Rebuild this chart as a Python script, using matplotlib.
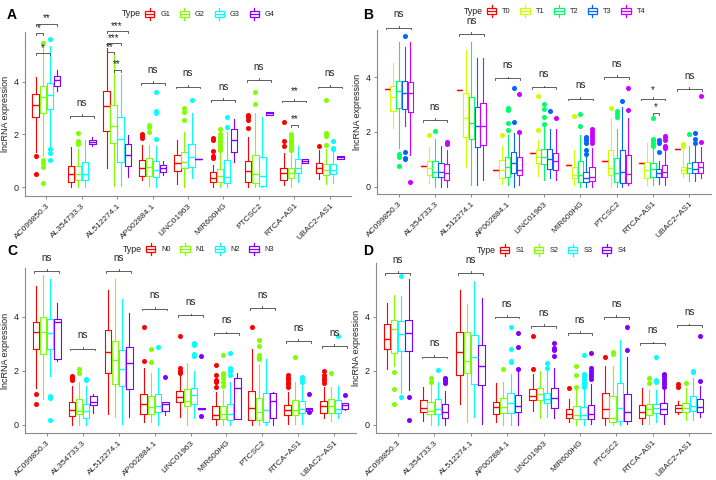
import matplotlib
matplotlib.use('Agg')
import matplotlib.pyplot as plt
import numpy as np
from matplotlib.legend_handler import HandlerBase
from matplotlib.lines import Line2D
from matplotlib.patches import Rectangle

plt.rcParams['font.family'] = ['Liberation Sans', 'DejaVu Sans']

genes = ['AC099850.3', 'AL354733.3', 'AL512274.1', 'AP002884.1', 'LINC01963',
         'MIR600HG', 'PTCSC2', 'RTCA\u2212AS1', 'UBAC2\u2212AS1']

# ---------------- Panel A ----------------
A_groups = ['G1', 'G2', 'G3', 'G4']
A_colors = ['#FF0000', '#80FF00', '#00FFFF', '#8000FF']
A_lo = [[1.35, 0.0, 0.71, 0.25, 0.12, 0.0, 0.0, 0.08, 0.3],
        [1.19, 0.0, 0.05, 0.05, 0.0, 0.0, 0.0, 0.0, 0.1],
        [1.5, 0.0, 0.05, 0.0, 0.35, 0.0, 0.0, 0.2, 0.15],
        [3.67, 1.58, 0.39, 0.45, 1.08, 0.95, 2.75, 0.9, 1.07]]
A_q1 = [[2.65, 0.2, 2.13, 0.43, 0.62, 0.2, 0.2, 0.27, 0.52],
        [2.81, 0.27, 1.66, 0.43, 0.71, 0.2, 0.14, 0.33, 0.46],
        [2.97, 0.27, 0.97, 0.4, 0.77, 0.17, 0.04, 0.52, 0.5],
        [3.85, 1.65, 0.8, 0.56, 1.08, 1.35, 2.76, 0.93, 1.07]]
A_med = [[3.14, 0.5, 3.09, 0.74, 0.93, 0.33, 0.62, 0.55, 0.71],
         [3.43, 0.5, 2.32, 0.77, 0.97, 0.42, 0.5, 0.55, 0.65],
         [3.5, 0.5, 1.82, 0.65, 1.13, 0.37, 0.42, 0.71, 0.65],
         [4.08, 1.73, 1.22, 0.71, 1.08, 1.79, 2.8, 0.99, 1.13]]
A_q3 = [[3.53, 0.81, 3.66, 1.03, 1.21, 0.58, 0.99, 0.71, 0.9],
        [3.86, 0.81, 3.12, 1.09, 1.35, 0.69, 1.22, 0.71, 0.88],
        [3.97, 0.94, 2.68, 0.98, 1.64, 1.03, 1.13, 1.05, 0.88],
        [4.23, 1.8, 1.64, 0.84, 1.08, 2.2, 2.84, 1.05, 1.18]]
A_hi = [[4.18, 1.54, 5.28, 1.6, 1.78, 0.85, 1.9, 1.3, 1.4],
        [5.3, 1.45, 5.05, 1.6, 2.1, 1.3, 2.8, 1.3, 1.45],
        [5.35, 1.78, 4.27, 1.55, 2.8, 2.1, 2.68, 1.55, 1.35],
        [4.46, 1.9, 1.98, 0.98, 1.08, 2.58, 2.87, 1.08, 1.18]]
A_out = [[[1.18, 0.5], [], [], [2.0, 1.94, 1.85], [], [1.85, 1.8, 1.38, 1.2, 1.1],
          [2.75, 2.65, 2.55, 2.25], [2.48, 1.74, 1.55], [1.55]],
         [[5.5, 1.03, 0.9, 0.77, 0.17], [2.05, 1.75, 1.7, 1.65], [], [2.35, 2.3, 2.1],
          [3.02, 2.85, 2.55], [2.2, 2.0, 1.9, 1.8, 1.7, 1.6, 1.5, 1.4], [3.62, 3.15],
          [2.0, 1.9, 1.8, 1.7, 1.6, 1.5, 1.4], [3.3, 2.05, 2.0, 1.95, 1.6]],
         [[5.62, 1.45, 1.28, 1.02], [], [], [3.62, 2.88, 2.82, 1.82], [3.3], [2.65, 2.3],
          [], [], [1.75, 1.5, 1.45]],
         [[], [], [], [], [], [], [], [], []]]
A_ov_labels = [None, 'ns', None, 'ns', 'ns', 'ns', 'ns', '**', 'ns']
A_ov_y = [0, 2.7, 0, 3.97, 3.82, 3.31, 4.08, 3.29, 3.82]
A_pairs = [(0, 0, 1, '*', 5.85), (0, 0, 2, '*', 5.09), (0, 0, 3, '**', 6.2),
           (2, 0, 1, '**', 5.12), (2, 1, 2, '**', 4.46), (2, 0, 2, '***', 5.47),
           (2, 0, 3, '***', 5.92), (7, 1, 2, '**', 2.36)]

# ---------------- Panel B ----------------
B_groups = ['T0', 'T1', 'T2', 'T3', 'T4']
B_colors = ['#FF0000', '#CCFF00', '#00FF66', '#0066FF', '#CC00FF']
B_T0 = [3.58, 0.75, 3.52, 0.6, 1.22, 0.78, 0.95, 0.88, 1.37]
B_lo = [B_T0,
        [2.13, 0.15, 0.73, 0.1, 0.4, 0.05, 0.0, 0.05, 0.35],
        [1.4, 0.0, 0.05, 0.05, 0.25, 0.0, 0.0, 0.05, 0.2],
        [2.2, 0.0, 0.05, 0.0, 0.3, 0.0, 0.0, 0.1, 0.2],
        [1.16, 0.0, 0.25, 0.05, 0.25, 0.0, 0.05, 0.05, 0.3]]
B_q1 = [B_T0,
        [2.78, 0.43, 1.83, 0.3, 0.85, 0.3, 0.43, 0.3, 0.49],
        [2.87, 0.37, 1.73, 0.37, 0.83, 0.18, 0.18, 0.37, 0.49],
        [2.85, 0.37, 1.46, 0.49, 0.63, 0.18, 0.15, 0.34, 0.51],
        [2.74, 0.24, 1.52, 0.43, 0.61, 0.22, 0.15, 0.34, 0.49]]
B_med = [B_T0,
         [3.29, 0.67, 2.5, 0.61, 1.1, 0.43, 0.67, 0.59, 0.61],
         [3.51, 0.55, 2.32, 0.73, 1.1, 0.43, 0.49, 0.63, 0.67],
         [3.41, 0.54, 2.23, 0.85, 1.0, 0.3, 0.55, 0.49, 0.66],
         [3.41, 0.49, 2.22, 0.62, 0.95, 0.37, 0.46, 0.55, 0.7]]
B_q3 = [B_T0,
        [3.68, 0.94, 3.41, 0.98, 1.34, 0.73, 1.34, 0.91, 0.73],
        [3.88, 0.95, 3.29, 1.1, 1.38, 0.92, 1.04, 0.88, 0.85],
        [3.85, 0.88, 2.93, 1.28, 1.36, 0.55, 1.34, 0.63, 0.91],
        [3.83, 0.83, 3.05, 1.07, 1.22, 0.73, 1.16, 0.79, 0.91]]
B_hi = [B_T0,
        [4.51, 1.45, 5.0, 1.5, 1.7, 1.35, 2.5, 1.6, 1.4],
        [5.3, 1.75, 5.3, 1.9, 2.2, 1.9, 2.1, 1.4, 1.5],
        [5.12, 1.5, 4.69, 1.95, 2.1, 1.1, 2.9, 0.95, 1.5],
        [5.3, 1.35, 4.7, 1.9, 2.1, 1.4, 2.5, 1.3, 1.45]]
B_out = [[[], [], [], [], [], [], [], [], []],
         [[], [1.9], [], [1.88], [3.3, 2.08], [2.58], [2.88], [], [1.55, 1.5]],
         [[1.18, 1.08, 0.77], [2.05], [], [2.88, 2.82, 2.33, 2.08], [3.02, 2.85, 2.55, 2.3],
          [2.65, 2.2], [2.75, 2.65, 2.55], [2.5, 1.75, 1.7, 1.6, 1.5], [1.93]],
         [[5.5, 1.28, 1.05, 1.0], [], [], [3.6, 2.38], [2.78],
          [1.8, 1.75, 1.7, 1.6, 1.35, 1.2], [3.15], [1.7, 1.6, 1.25], [1.95, 1.75, 1.6]],
         [[0.18], [1.65, 1.6, 1.55], [], [3.4, 2.0], [2.52], [2.1, 2.0, 1.9, 1.8, 1.7, 1.6],
          [3.6, 2.8], [1.85, 1.8, 1.7, 1.5, 1.45, 1.4], [3.3, 1.62]]]
B_ov_labels = ['ns', 'ns', 'ns', 'ns', 'ns', 'ns', 'ns', '*', 'ns']
B_ov_y = [5.82, 2.44, 5.59, 3.96, 3.63, 3.22, 4.0, 3.22, 3.57]
B_pairs = [(7, 2, 3, '*', 2.7)]

# ---------------- Panel C ----------------
C_groups = ['N0', 'N1', 'N2', 'N3']
C_colors = ['#FF0000', '#80FF00', '#00FFFF', '#8000FF']
C_lo = [[1.35, 0.0, 0.39, 0.1, 0.3, 0.0, 0.0, 0.05, 0.25],
        [0.97, 0.0, 0.28, 0.1, 0.0, 0.0, 0.0, 0.05, 0.15],
        [1.8, 0.0, 0.05, 0.0, 0.25, 0.0, 0.0, 0.05, 0.25],
        [2.35, 0.45, 0.3, 0.35, 0.58, 0.21, 0.0, 0.53, 0.55]]
C_q1 = [[2.79, 0.33, 1.9, 0.39, 0.86, 0.23, 0.18, 0.37, 0.45],
        [2.63, 0.39, 1.5, 0.39, 0.68, 0.21, 0.17, 0.37, 0.45],
        [2.82, 0.27, 1.44, 0.46, 0.76, 0.17, 0.11, 0.43, 0.45],
        [2.45, 0.73, 1.32, 0.52, 0.58, 0.21, 0.27, 0.53, 0.6]]
C_med = [[3.43, 0.55, 2.7, 0.77, 1.02, 0.37, 0.64, 0.55, 0.68],
         [3.43, 0.53, 2.4, 0.65, 0.9, 0.39, 0.49, 0.55, 0.68],
         [3.41, 0.53, 2.08, 0.7, 1.1, 0.39, 0.54, 0.6, 0.58],
         [3.8, 0.85, 2.28, 0.76, 0.6, 1.38, 0.89, 0.58, 0.72]]
C_q3 = [[3.8, 0.86, 3.5, 1.13, 1.26, 0.7, 1.26, 0.74, 0.88],
        [3.99, 0.97, 3.1, 1.07, 1.34, 0.68, 0.98, 0.92, 0.95],
        [3.9, 0.76, 2.77, 1.13, 1.38, 0.76, 1.17, 0.89, 0.92],
        [3.9, 1.07, 2.89, 0.86, 0.64, 1.75, 1.17, 0.62, 0.82]]
C_hi = [[5.15, 1.45, 5.0, 2.1, 1.8, 1.2, 2.8, 1.2, 1.4],
        [5.53, 1.6, 5.38, 1.9, 2.3, 1.3, 2.2, 1.6, 1.4],
        [5.38, 1.45, 4.64, 2.1, 2.0, 1.6, 2.45, 1.5, 1.45],
        [4.52, 1.15, 4.12, 0.86, 0.64, 1.9, 1.22, 0.62, 0.82]]
C_out = [[[1.15, 0.77], [1.8, 1.75, 1.7, 1.65], [], [3.62, 2.38], [3.3, 2.1, 2.0, 1.95, 1.9],
          [2.2, 1.85, 1.65, 1.6, 1.4], [3.62], [1.85, 1.75, 1.7, 1.6, 1.5, 1.4],
          [2.0, 1.85, 1.75, 1.65, 1.55]],
         [[], [2.05, 1.9], [], [2.82, 2.33], [], [2.6, 1.9, 1.85, 1.75, 1.6, 1.45],
          [3.15, 2.9, 2.6, 2.5, 2.45], [2.5], [1.93]],
         [[1.05, 1.0, 0.18], [1.7, 1.65], [], [2.88], [3.02, 2.95, 2.62, 2.55],
          [2.65, 2.1, 2.0, 1.85], [], [1.78, 1.7, 1.6], [3.3]],
         [[], [], [], [1.78], [2.55, 0.32], [], [], [1.15, 0.48], [1.1]]]
C_ov_labels = ['ns'] * 9
C_ov_y = [5.69, 2.82, 5.69, 4.3, 4.05, 3.38, 4.33, 3.1, 2.92]
C_pairs = []

# ---------------- Panel D ----------------
D_groups = ['S1', 'S2', 'S3', 'S4']
D_colors = ['#FF0000', '#80FF00', '#00FFFF', '#8000FF']
D_lo = [[2.09, 0.15, 0.77, 0.1, 0.5, 0.1, 0.0, 0.05, 0.4],
        [2.2, 0.0, 0.1, 0.0, 0.25, 0.0, 0.0, 0.05, 0.2],
        [1.2, 0.0, 0.3, 0.0, 0.3, 0.0, 0.0, 0.1, 0.2],
        [1.3, 0.0, 0.05, 0.0, 0.25, 0.05, 0.05, 0.05, 0.3]]
D_q1 = [[2.83, 0.46, 1.84, 0.4, 0.93, 0.27, 0.27, 0.27, 0.46],
        [2.68, 0.4, 1.91, 0.43, 0.91, 0.23, 0.09, 0.37, 0.46],
        [2.74, 0.4, 1.51, 0.43, 0.83, 0.23, 0.15, 0.43, 0.52],
        [2.74, 0.27, 1.47, 0.48, 0.64, 0.21, 0.14, 0.4, 0.49]]
D_med = [[3.2, 0.64, 2.72, 0.68, 1.07, 0.4, 0.6, 0.49, 0.62],
         [3.57, 0.52, 2.35, 0.68, 1.14, 0.37, 0.27, 0.6, 0.64],
         [3.36, 0.6, 2.53, 0.83, 0.95, 0.37, 0.64, 0.64, 0.7],
         [3.42, 0.48, 2.19, 0.7, 1.01, 0.4, 0.48, 0.58, 0.68]]
D_q3 = [[3.73, 0.91, 3.44, 0.86, 1.32, 0.58, 1.17, 0.74, 0.73],
        [3.88, 0.86, 3.44, 0.99, 1.35, 0.7, 1.07, 0.77, 0.83],
        [3.85, 0.95, 3.33, 1.17, 1.2, 0.68, 1.54, 0.77, 1.07],
        [3.88, 0.77, 2.96, 1.1, 1.35, 0.73, 1.15, 0.8, 0.95]]
D_hi = [[4.53, 1.4, 5.0, 1.55, 1.9, 0.95, 2.2, 1.35, 0.9],
        [4.82, 1.55, 4.47, 1.6, 2.0, 1.3, 2.2, 1.3, 1.35],
        [4.78, 1.6, 5.33, 1.9, 2.0, 1.3, 3.15, 1.3, 1.75],
        [5.4, 1.25, 4.72, 2.05, 2.1, 1.5, 2.5, 1.3, 1.45]]
D_out = [[[], [], [], [], [3.3, 2.08], [1.38], [2.5], [], [1.5, 1.4]],
         [[1.97, 1.33, 0.77], [1.75, 1.6], [], [2.08], [], [2.2, 1.85, 1.4], [2.72, 2.62],
          [1.75, 1.55], [1.57]],
         [[5.5, 1.02], [2.05], [], [3.62, 2.82, 2.38, 2.33], [2.3, 2.1],
          [2.6, 1.9, 1.8, 1.7, 1.6, 1.5, 1.4], [], [2.5, 1.65, 1.6], [2.0, 1.95]],
         [[1.05, 0.18], [1.75, 1.7, 1.65, 1.6, 1.55], [], [3.4, 2.88, 2.08],
          [3.02, 2.85, 2.78, 2.55], [2.65, 2.1, 2.0, 1.9, 1.8, 1.7], [3.62, 2.78],
          [1.9, 1.85, 1.8, 1.7, 1.6, 1.5, 1.4], [3.3, 1.63]]]
D_ov_labels = ['ns'] * 9
D_ov_y = [5.64, 2.53, 5.64, 4.01, 3.67, 3.4, 4.0, 3.02, 3.69]
D_pairs = []

W, H = 716, 480
fig = plt.figure(figsize=(W / 100, H / 100), dpi=100)

AXIS_GREY = '#8a8a8a'
BRACKET = '#444444'


class BoxKeyHandler(HandlerBase):
    def create_artists(self, legend, orig_handle, xdescent, ydescent, width, height,
                       fontsize, trans):
        c = orig_handle.get_color()
        x0, y0 = -xdescent, -ydescent
        bw = width * 0.85
        bx = x0 + (width - bw) / 2
        arts = [Rectangle((bx, y0 + height * 0.2), bw, height * 0.6, fill=False,
                          ec=c, lw=0.9, transform=trans),
                Line2D([bx, bx + bw], [y0 + height * 0.5] * 2, color=c, lw=0.9,
                       transform=trans),
                Line2D([x0 + width / 2] * 2, [y0, y0 + height * 0.2], color=c, lw=0.9,
                       transform=trans),
                Line2D([x0 + width / 2] * 2, [y0 + height * 0.8, y0 + height], color=c,
                       lw=0.9, transform=trans)]
        return arts


def draw_panel(rect_px, ylim, groups, colors, lo, q1, med, q3, hi, out,
               ov_labels, ov_y, pairs, letter, letter_xy, legend_xy):
    l, t, r, b = rect_px
    ax = fig.add_axes([l / W, 1 - b / H, (r - l) / W, (b - t) / H])
    n = len(groups)
    x = np.arange(len(genes))
    slot = 0.8 / n
    for g in range(n):
        c = colors[g]
        stats = []
        for i in range(len(genes)):
            stats.append(dict(whislo=lo[g][i], q1=q1[g][i], med=med[g][i], q3=q3[g][i],
                              whishi=hi[g][i], fliers=np.array(out[g][i], dtype=float)))
        pos = x - 0.4 + slot * (g + 0.5)
        ax.bxp(stats, positions=pos, widths=slot * 0.9, showcaps=False, showfliers=True,
               manage_ticks=False,
               boxprops=dict(color=c, lw=0.8),
               whiskerprops=dict(color=c, lw=0.8),
               medianprops=dict(color=c, lw=1.0),
               flierprops=dict(marker='o', markerfacecolor=c, markeredgecolor=c,
                               markersize=2.6, linestyle='none'))
    ax.set_xlim(-0.6, len(genes) - 0.4)
    ax.set_ylim(*ylim)
    ppu = (b - t) / (ylim[1] - ylim[0])  # pixels per data unit
    d = 1.8 / ppu
    for i, (lab, yy) in enumerate(zip(ov_labels, ov_y)):
        if lab is None:
            continue
        half = 0.34
        ax.plot([i - half, i - half, i + half, i + half], [yy - d, yy, yy, yy - d],
                color=BRACKET, lw=0.6, clip_on=False)
        ax.plot([i, i], [yy, yy + d], color=BRACKET, lw=0.6, clip_on=False)
        off = 9.5 if lab == 'ns' else 6.5
        ax.annotate(lab, (i, yy), xytext=(0, off), textcoords='offset points',
                    ha='center', va='center', fontsize=7, color='#222222',
                    annotation_clip=False)
    for (i, ga, gb, lab, yy) in pairs:
        xa = i - 0.4 + slot * (ga + 0.5)
        xb = i - 0.4 + slot * (gb + 0.5)
        ax.plot([xa, xa, xb, xb], [yy - d, yy, yy, yy - d], color=BRACKET, lw=0.6,
                clip_on=False)
        ax.annotate(lab, ((xa + xb) / 2, yy), xytext=(0, 4.0), textcoords='offset points',
                    ha='center', va='center', fontsize=7, color='#222222',
                    annotation_clip=False)
    for s in ['top', 'right']:
        ax.spines[s].set_visible(False)
    for s in ['left', 'bottom']:
        ax.spines[s].set_color(AXIS_GREY)
        ax.spines[s].set_linewidth(0.8)
    ax.set_yticks([0, 2, 4])
    ax.set_xticks(x)
    ax.set_xticklabels(genes, rotation=45, ha='right', rotation_mode='anchor')
    ax.tick_params(axis='both', colors=AXIS_GREY, labelcolor='#222222', labelsize=6.5,
                   length=2.5, width=0.7, pad=2)
    ax.tick_params(axis='x', labelsize=6.0)
    ax.set_ylabel('lncRNA expression', fontsize=6.5, color='#222222', labelpad=3)
    ax.patch.set_alpha(0)
    fig.text(letter_xy[0] / W, 1 - letter_xy[1] / H, letter, fontsize=10,
             fontweight='bold', ha='left', va='center')
    # legend
    lx, ly = legend_xy
    fig.text((lx - 3) / W, 1 - ly / H, 'Type', fontsize=6.3, ha='right', va='center',
             color='#222222')
    handles = [Line2D([], [], color=c, label=gname) for gname, c in zip(groups, colors)]
    fig.legend(handles=handles, handler_map={Line2D: BoxKeyHandler()},
               loc='center left', bbox_to_anchor=(lx / W, 1 - ly / H), ncol=n,
               frameon=False, fontsize=5.3, handlelength=1.5, handleheight=2.0,
               handletextpad=0.7, columnspacing=1.2, borderpad=0, borderaxespad=0,
               labelcolor='#222222')
    return ax


draw_panel((25, 32, 351, 196), (-0.34, 5.9), A_groups, A_colors, A_lo, A_q1, A_med, A_q3,
           A_hi, A_out, A_ov_labels, A_ov_y, A_pairs, 'A', (7, 15), (144, 14))
draw_panel((377, 30, 711, 194), (-0.27, 5.73), B_groups, B_colors, B_lo, B_q1, B_med, B_q3,
           B_hi, B_out, B_ov_labels, B_ov_y, B_pairs, 'B', (363, 15), (486, 11))
draw_panel((25, 268, 356, 433), (-0.3, 5.8), C_groups, C_colors, C_lo, C_q1, C_med, C_q3,
           C_hi, C_out, C_ov_labels, C_ov_y, C_pairs, 'C', (7, 251), (145, 249))
draw_panel((376, 263, 711, 433), (-0.3, 6.0), D_groups, D_colors, D_lo, D_q1, D_med, D_q3,
           D_hi, D_out, D_ov_labels, D_ov_y, D_pairs, 'D', (363, 251), (499, 250))

fig.savefig('out.png', dpi=100)
